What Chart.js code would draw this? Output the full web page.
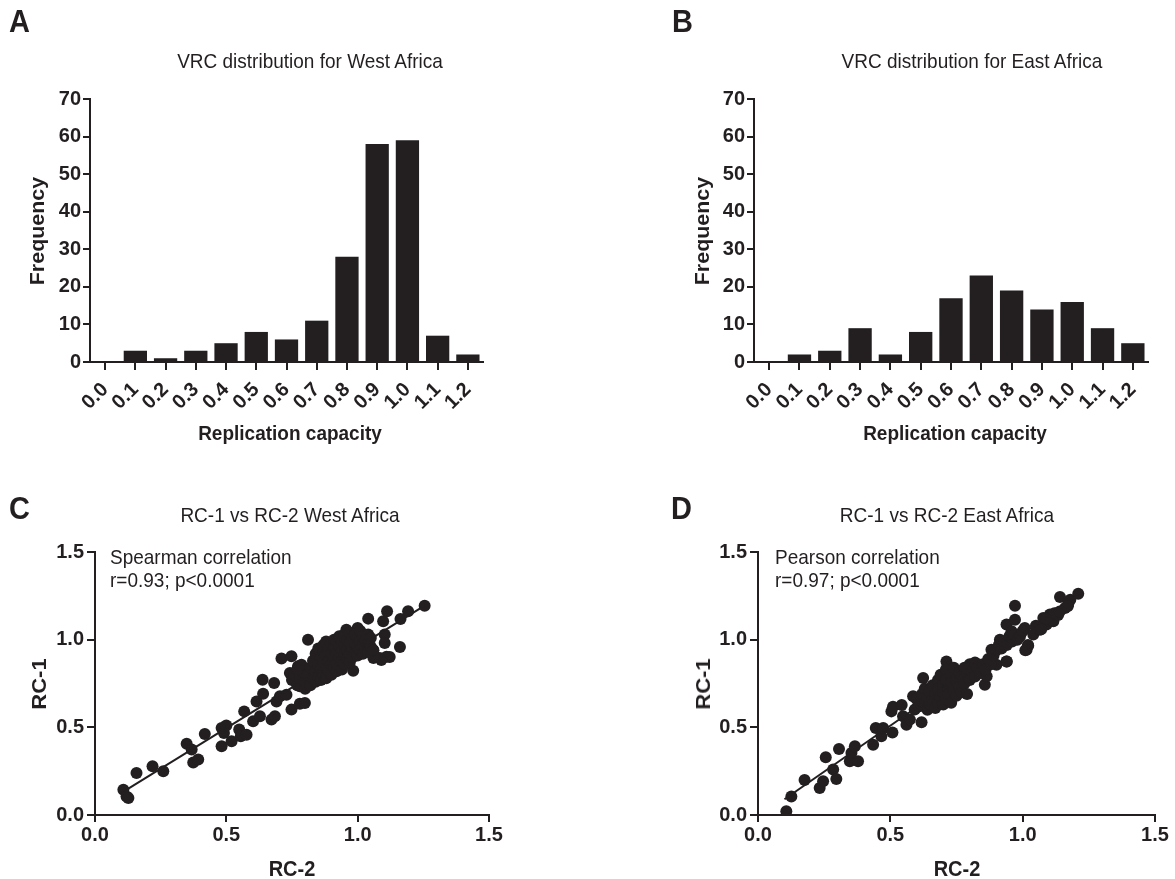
<!DOCTYPE html>
<html><head><meta charset="utf-8">
<script src="https://cdn.jsdelivr.net/npm/chart.js@4.4.1/dist/chart.umd.min.js"></script>
<style>
html,body{margin:0;padding:0;background:#fff;}
body{width:1175px;height:879px;position:relative;overflow:hidden;}
canvas{position:absolute;left:0;top:0;}
.t{position:absolute;white-space:nowrap;line-height:1;font-family:'Liberation Sans',Arial,sans-serif;color:#231f20;transform-origin:0 85%;transform:scaleY(1.1);}
.c{transform-origin:50% 85%;transform:translateX(-50%) scaleY(1.1);}
.r{transform-origin:50% 50%;transform:translate(-50%,-50%) scaleY(1.1) rotate(-90deg);}
.b{font-weight:bold;}
</style></head><body>
<canvas id="cA" width="1175" height="879"></canvas>
<canvas id="cB" width="1175" height="879"></canvas>
<canvas id="cC" width="1175" height="879"></canvas>
<canvas id="cD" width="1175" height="879"></canvas>

<div class="t b" style="left:9px;top:8px;font-size:29px">A</div>
<div class="t b" style="left:672px;top:8px;font-size:29px">B</div>
<div class="t b" style="left:9px;top:495px;font-size:29px">C</div>
<div class="t b" style="left:671px;top:495px;font-size:29px">D</div>

<div class="t c" style="left:310px;top:52px;font-size:19px">VRC distribution for West Africa</div>
<div class="t c" style="left:972px;top:52px;font-size:19px">VRC distribution for East Africa</div>
<div class="t c" style="left:290px;top:506px;font-size:19px">RC-1 vs RC-2 West Africa</div>
<div class="t c" style="left:947px;top:506px;font-size:19px">RC-1 vs RC-2 East Africa</div>

<div class="t b r" style="left:38px;top:231px;font-size:19.5px">Frequency</div>
<div class="t b r" style="left:703px;top:231px;font-size:19.5px">Frequency</div>
<div class="t b c" style="left:290px;top:424px;font-size:19px">Replication capacity</div>
<div class="t b c" style="left:955px;top:424px;font-size:19px">Replication capacity</div>

<div class="t b r" style="left:39px;top:684px;font-size:20px">RC-1</div>
<div class="t b r" style="left:703px;top:684px;font-size:20px">RC-1</div>
<div class="t b c" style="left:292px;top:859px;font-size:20px">RC-2</div>
<div class="t b c" style="left:957px;top:859px;font-size:20px">RC-2</div>

<div class="t" style="left:110px;top:548px;font-size:19px">Spearman correlation</div>
<div class="t" style="left:110px;top:571px;font-size:19px">r=0.93; p&lt;0.0001</div>
<div class="t" style="left:775px;top:548px;font-size:19px">Pearson correlation</div>
<div class="t" style="left:775px;top:571px;font-size:19px">r=0.97; p&lt;0.0001</div>

<script>
// ---------- DATA ----------
const binLabels = ['0.0','0.1','0.2','0.3','0.4','0.5','0.6','0.7','0.8','0.9','1.0','1.1','1.2'];
const westFreq = [0,3,1,3,5,8,6,11,28,58,59,7,2];
const eastFreq = [0,2,3,9,2,8,17,23,19,14,16,9,5];
const freqTicks = [0,10,20,30,40,50,60,70];
const rcTicks = ['0.0','0.5','1.0','1.5'];

// [RC-2, RC-1]
const westPoints = [
 [0.108,0.144],[0.120,0.106],[0.127,0.097],[0.158,0.240],[0.219,0.278],[0.260,0.249],
 [0.349,0.407],[0.368,0.373],[0.374,0.300],[0.393,0.316],[0.418,0.462],[0.482,0.392],
 [0.482,0.496],[0.491,0.468],[0.500,0.510],[0.520,0.420],[0.549,0.487],[0.555,0.449],
 [0.577,0.458],[0.568,0.591],[0.602,0.534],[0.615,0.648],[0.628,0.563],[0.638,0.772],
 [0.640,0.692],[0.672,0.544],[0.685,0.563],[0.682,0.753],[0.691,0.648],[0.704,0.677],
 [0.729,0.686],[0.710,0.892],[0.748,0.905],[0.748,0.601],[0.780,0.635],[0.799,0.639],
 [0.742,0.810],[0.761,0.772],[0.773,0.848],[0.786,0.857],[0.780,0.734],[0.811,1.000],
 [0.818,0.772],[0.983,0.823],[1.040,1.120],[1.059,0.939],[1.084,0.895],[1.103,1.030],
 [1.103,0.981],[1.097,1.105],[1.112,1.162],[1.122,0.901],[1.161,0.958],[1.163,1.118],
 [1.192,1.162],[1.255,1.194],[1.000,1.067],[0.957,1.057],[1.110,0.903],[1.090,0.884],
 [1.060,0.895],[0.750,0.770],[0.760,0.800],[0.770,0.740],[0.780,0.780],[0.790,0.820],
 [0.770,0.830],[0.800,0.720],
 [0.80,0.76],[0.81,0.80],[0.82,0.74],[0.82,0.84],[0.83,0.78],[0.83,0.88],[0.84,0.76],
 [0.84,0.82],[0.84,0.92],[0.85,0.79],[0.85,0.86],[0.85,0.95],[0.86,0.77],[0.86,0.83],
 [0.86,0.90],[0.87,0.80],[0.87,0.87],[0.87,0.93],[0.87,0.97],[0.88,0.78],[0.88,0.84],
 [0.88,0.91],[0.88,0.99],[0.89,0.82],[0.89,0.88],[0.89,0.95],[0.90,0.80],[0.90,0.86],
 [0.90,0.92],[0.90,0.98],[0.91,0.84],[0.91,0.89],[0.91,0.96],[0.91,1.00],[0.92,0.82],
 [0.92,0.87],[0.92,0.93],[0.92,0.99],[0.93,0.85],[0.93,0.90],[0.93,0.96],[0.93,1.02],
 [0.94,0.83],[0.94,0.88],[0.94,0.94],[0.94,0.99],[0.95,0.86],[0.95,0.91],[0.95,0.97],
 [0.95,1.03],[0.96,0.89],[0.96,0.94],[0.96,1.00],[0.97,0.87],[0.97,0.92],[0.97,0.98],
 [0.97,1.04],[0.98,0.90],[0.98,0.95],[0.98,1.01],[0.99,0.93],[0.99,0.98],[0.99,1.03],
 [1.00,0.91],[1.00,0.96],[1.00,1.01],[1.01,0.94],[1.01,0.99],[1.01,1.05],[1.02,0.92],
 [1.02,0.97],[1.02,1.02],[1.03,0.95],[1.03,1.00],[1.04,0.93],[1.04,0.98],[1.04,1.03],
 [1.05,0.96],[1.05,1.01],[1.06,0.94]
];
const eastPoints = [
 [0.107,0.021],[0.126,0.106],[0.176,0.200],[0.233,0.154],[0.246,0.192],[0.256,0.329],
 [0.284,0.259],[0.296,0.205],[0.306,0.376],[0.347,0.306],[0.353,0.354],[0.366,0.392],
 [0.378,0.306],[0.435,0.401],[0.445,0.496],[0.466,0.449],[0.473,0.496],[0.504,0.591],
 [0.508,0.471],[0.510,0.618],[0.543,0.627],[0.548,0.563],[0.561,0.515],[0.574,0.544],
 [0.586,0.677],[0.592,0.601],[0.618,0.529],[0.624,0.781],[0.712,0.876],[0.857,0.743],
 [0.864,0.791],[0.882,0.943],[0.901,0.857],[0.914,1.000],[0.939,0.876],[0.939,1.086],
 [0.958,1.048],[0.971,1.114],[0.971,1.194],[0.964,1.000],[1.008,1.067],[1.015,0.943],
 [1.021,0.966],[1.040,1.029],[1.065,1.057],[1.078,1.124],[1.090,1.086],[1.103,1.143],
 [1.116,1.105],[1.134,1.141],[1.141,1.243],[1.160,1.181],[1.172,1.200],[1.180,1.228],
 [1.210,1.262],[0.940,0.875],[1.020,0.970],
 [0.60,0.66],[0.61,0.62],[0.62,0.69],[0.63,0.64],[0.63,0.72],[0.64,0.60],[0.64,0.67],
 [0.65,0.70],[0.65,0.63],[0.66,0.74],[0.66,0.66],[0.67,0.61],[0.67,0.69],[0.68,0.77],
 [0.68,0.72],[0.68,0.64],[0.69,0.67],[0.69,0.80],[0.70,0.74],[0.70,0.70],[0.70,0.63],
 [0.71,0.83],[0.71,0.77],[0.71,0.66],[0.72,0.72],[0.72,0.69],[0.73,0.80],[0.73,0.75],
 [0.73,0.64],[0.74,0.71],[0.74,0.84],[0.75,0.77],[0.75,0.68],[0.76,0.73],[0.76,0.81],
 [0.77,0.79],[0.77,0.70],[0.78,0.75],[0.78,0.84],[0.79,0.80],[0.79,0.69],[0.80,0.77],
 [0.80,0.86],[0.81,0.82],[0.82,0.79],[0.82,0.87],[0.83,0.84],[0.84,0.81],[0.85,0.86],
 [0.86,0.83],[0.87,0.89],[0.88,0.86],[0.89,0.91],[0.90,0.94],[0.91,0.97],[0.92,0.95],
 [0.93,0.99],[0.94,0.97],[0.95,1.02],[0.96,0.99],[0.97,1.03],[0.98,1.00],[0.99,1.02],
 [1.00,1.05],[1.01,0.94],[1.05,1.08],[1.07,1.06],[1.09,1.12],[1.12,1.15],[1.14,1.16],
 [1.17,1.19]
];
const westLineX = [0.11, 1.255];
const westLineY = [0.135, 1.194];
const eastLineX = [0.10, 1.21];
const eastLineY = [0.09, 1.255];

// ---------- STYLE ----------
const INK = '#231f20';
const FONT = "'Liberation Sans', Arial, sans-serif";
const W = 1175, H = 879;

function fixW(w){ return s => { s.width = w; }; }
function fixH(h){ return s => { s.height = h; }; }

function histChart(id, values, area){
  const yW = 60, xH = 90;
  new Chart(document.getElementById(id), {
    type: 'bar',
    data: { labels: binLabels, datasets: [{ data: values, backgroundColor: INK, borderWidth: 0,
            barPercentage: 0.77, categoryPercentage: 1 }] },
    options: {
      responsive: false, animation: false, devicePixelRatio: 1, events: [],
      layout: { padding: { left: area.l - yW, right: W - area.r, top: area.t, bottom: H - area.b - xH } },
      plugins: { legend: { display: false }, tooltip: { enabled: false } },
      scales: {
        x: { type: 'category', offset: true, afterFit: fixH(xH),
          grid: { display: true, offset: false, drawOnChartArea: false, drawTicks: true, tickLength: 8, color: INK, lineWidth: 2 },
          border: { display: true, color: INK, width: 2 },
          ticks: { color: INK, font: { family: FONT, size: 20, weight: 'bold' }, minRotation: 45, maxRotation: 45, padding: 8, autoSkip: false } },
        y: { min: freqTicks[0], max: freqTicks[freqTicks.length-1], afterFit: fixW(yW),
          afterBuildTicks: s => { s.ticks = freqTicks.map(v => ({ value: v })); },
          grid: { display: true, drawOnChartArea: false, drawTicks: true, tickLength: 7, color: INK, lineWidth: 2 },
          border: { display: true, color: INK, width: 2 },
          ticks: { color: INK, font: { family: FONT, size: 20, weight: 'bold' }, padding: 2 } }
      }
    }
  });
}

function scatterChart(id, pts, lx, ly, area){
  const yW = 60, xH = 60;
  const tickVals = rcTicks.map(Number);
  new Chart(document.getElementById(id), {
    type: 'scatter',
    data: { datasets: [
      { type: 'line', data: lx.map((x,i) => ({ x: x, y: ly[i] })), borderColor: INK, borderWidth: 2,
        pointRadius: 0, fill: false, tension: 0, order: 0 },
      { data: pts.map(p => ({ x: p[0], y: p[1] })), backgroundColor: INK, borderWidth: 0,
        pointRadius: 6, pointHoverRadius: 6, order: 1 }
    ] },
    options: {
      responsive: false, animation: false, devicePixelRatio: 1, events: [],
      layout: { padding: { left: area.l - yW, right: W - area.r, top: area.t, bottom: H - area.b - xH } },
      plugins: { legend: { display: false }, tooltip: { enabled: false } },
      scales: {
        x: { type: 'linear', min: tickVals[0], max: tickVals[tickVals.length-1], afterFit: fixH(xH),
          afterBuildTicks: s => { s.ticks = tickVals.map(v => ({ value: v })); },
          grid: { display: true, drawOnChartArea: false, drawTicks: true, tickLength: 7, color: INK, lineWidth: 2 },
          border: { display: true, color: INK, width: 2 },
          ticks: { color: INK, font: { family: FONT, size: 20, weight: 'bold' }, padding: 1,
            callback: (v) => rcTicks[tickVals.indexOf(v)] } },
        y: { type: 'linear', min: tickVals[0], max: tickVals[tickVals.length-1], afterFit: fixW(yW),
          afterBuildTicks: s => { s.ticks = tickVals.map(v => ({ value: v })); },
          grid: { display: true, drawOnChartArea: false, drawTicks: true, tickLength: 8, color: INK, lineWidth: 2 },
          border: { display: true, color: INK, width: 2 },
          ticks: { color: INK, font: { family: FONT, size: 20, weight: 'bold' }, padding: 3,
            callback: (v) => rcTicks[tickVals.indexOf(v)] } }
      }
    }
  });
}

histChart('cA', westFreq, { l: 90, r: 483, t: 99, b: 362 });
histChart('cB', eastFreq, { l: 754, r: 1148, t: 99, b: 362 });
scatterChart('cC', westPoints, westLineX, westLineY, { l: 95, r: 489, t: 552, b: 815 });
scatterChart('cD', eastPoints, eastLineX, eastLineY, { l: 758, r: 1155, t: 552, b: 815 });
</script>
</body></html>
